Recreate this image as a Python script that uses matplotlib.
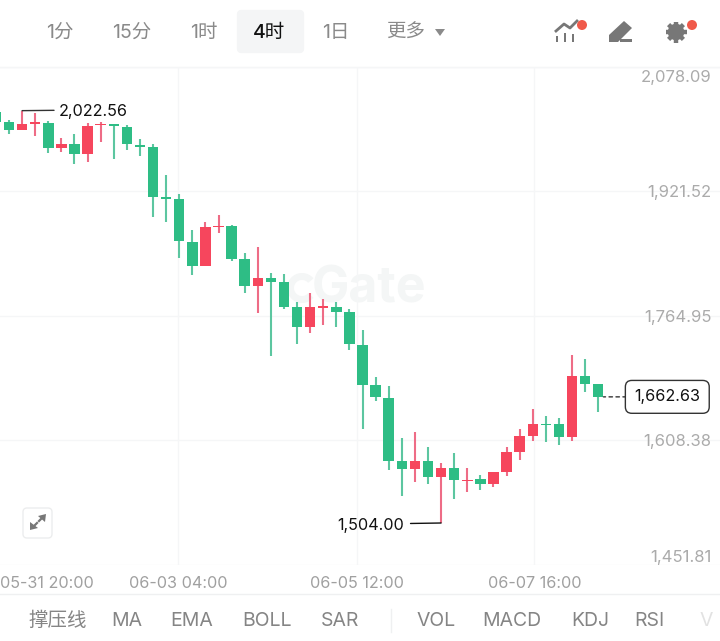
import matplotlib
matplotlib.use("Agg")
import matplotlib.pyplot as plt
import numpy as np
from matplotlib.patches import FancyBboxPatch, Circle, Polygon, Rectangle, Wedge

plt.rcParams['font.family'] = ['Inter', 'Noto Sans CJK SC', 'DejaVu Sans']

# 4h candles, oldest first; index 0 sits partly off the left edge
opens = [2020.9, 2008.7, 1998.2, 2006.4, 2007.4, 1975.2, 1980.3, 1967.7, 2004.5, 2005.4,
         2002.4, 1979.7, 1976.8, 1913.6, 1911.1, 1857.7, 1827.2, 1876.2, 1877.1, 1835.6,
         1802.4, 1811.7, 1807.5, 1775.6, 1750.1, 1774.7, 1775.3, 1769.0, 1728.2, 1677.5,
         1661.6, 1581.6, 1572.3, 1581.6, 1562.2, 1573.2, 1557.2, 1558.9, 1553.4, 1568.1,
         1593.6, 1613.8, 1628.9, 1628.1, 1611.8, 1688.8, 1678.4]
highs = [2020.9, 2010.8, 2022.56, 2020.0, 2009.9, 1988.5, 1992.8, 2007.4, 2007.9, 2005.4,
         2004.1, 1987.3, 1981.0, 1942.0, 1917.4, 1872.1, 1882.5, 1891.3, 1878.7, 1843.2,
         1850.7, 1818.8, 1816.7, 1781.5, 1792.9, 1785.3, 1781.5, 1773.1, 1746.3, 1688.0,
         1676.3, 1611.3, 1618.4, 1599.6, 1579.8, 1591.6, 1573.5, 1564.3, 1568.5, 1599.6,
         1621.8, 1647.0, 1638.5, 1636.0, 1715.3, 1710.2, 1679.2]
lows = [2000.8, 1993.2, 1998.2, 1991.1, 1969.7, 1970.6, 1955.1, 1957.6, 1983.5, 1961.8,
        1972.7, 1965.9, 1889.2, 1882.2, 1837.6, 1816.2, 1827.2, 1868.3, 1833.9, 1793.6,
        1768.1, 1714.4, 1772.7, 1729.5, 1742.9, 1752.6, 1750.9, 1721.2, 1621.8, 1657.4,
        1570.6, 1538.3, 1555.9, 1553.4, 1504.00, 1534.6, 1543.3, 1545.5, 1549.6, 1563.1,
        1583.2, 1607.1, 1605.9, 1602.1, 1607.1, 1669.1, 1643.6]
closes = [2008.3, 1998.2, 2005.8, 2007.7, 1975.2, 1980.3, 1967.7, 2003.3, 2006.2, 2003.6,
          1980.6, 1977.2, 1914.0, 1911.8, 1858.6, 1827.2, 1876.6, 1877.9, 1836.4, 1802.4,
          1811.7, 1807.5, 1776.0, 1750.1, 1775.3, 1776.5, 1769.7, 1728.7, 1677.9, 1662.1,
          1582.0, 1572.3, 1581.6, 1562.2, 1573.2, 1557.7, 1558.4, 1553.0, 1567.8, 1593.3,
          1613.4, 1628.5, 1627.6, 1611.8, 1688.8, 1678.8, 1662.63]

price_ticks = [2078.09, 1921.52, 1764.95, 1608.38, 1451.81]
date_tick_pos = [13.93, 27.56, 41.13]
date_tick_labels = ['06-03 04:00', '06-05 12:00', '06-07 16:00']
first_date_label = '05-31 20:00'
tabs = ['1分', '15分', '1时', '4时', '1日', '更多']
indicators = ['撑压线', 'MA', 'EMA', 'BOLL', 'SAR', 'VOL', 'MACD', 'KDJ', 'RSI', 'V']
high_value = 2022.56
low_value = 1504.00
last_value = 1662.63

UP, DOWN = '#F6465D', '#2EBD85'
UP_WICK, DOWN_WICK = '#EE6C86', '#5CC6A0'
GRID = '#F5F6F7'
W, H = 720, 641

fig = plt.figure(figsize=(W / 100, H / 100), dpi=100, facecolor='white')

# Screen chrome lives on a pixel-space layer beneath the price chart
ui = fig.add_axes([0, 0, 1, 1], zorder=0)
ui.set_xlim(0, W)
ui.set_ylim(H, 0)
ui.axis('off')

ui.add_patch(FancyBboxPatch((241, 14), 59, 35, boxstyle='round,pad=0,rounding_size=0',
                            fc='#F4F5F6', ec='#F4F5F6', lw=6, joinstyle='round'))
for label, x in zip(tabs, [60, 132, 204, 269, 336, 406]):
    active = label == '4时'
    ui.text(x, 33, label, ha='center', va='center', fontsize=14,
            color='#111111' if active else '#8A8A8A',
            fontweight='medium' if active else 'normal')
ui.add_patch(Polygon([[435, 29], [445, 29], [440, 36]], fc='#8A8A8A', ec='none'))

# Toolbar icons
ICON = '#777777'
for x, top in [(557, 33), (565, 30), (573, 31)]:
    ui.add_patch(Rectangle((x - 1.2, top + 3), 2.6, 42 - top - 3, fc=ICON, ec='none'))
ui.plot([556, 564, 570, 577], [31, 24, 28, 21], color=ICON, lw=2)
ui.add_patch(Polygon([[609, 35], [624, 21], [632, 28], [618, 42], [609, 42]], fc=ICON, ec='none'))
ui.add_patch(Rectangle((620, 39), 12, 3, fc=ICON, ec='none'))
gear_x, gear_y = 676, 32
tooth_angles = np.deg2rad(np.arange(0, 360, 45))
for a in tooth_angles:
    ui.plot([gear_x, gear_x + 10.5 * np.cos(a)], [gear_y, gear_y + 10.5 * np.sin(a)],
            color=ICON, lw=3.2, solid_capstyle='butt')
ui.add_patch(Circle((gear_x, gear_y), 8.3, fc=ICON, ec='none'))
ui.add_patch(Circle((gear_x, gear_y), 3.8, fc='white', ec='none'))
for x in (582, 692):
    ui.add_patch(Circle((x, 25), 5, fc='#F0594A', ec='none', zorder=3))

# Rules and bottom bar
ui.plot([0, W], [67, 67], color='#F0F1F2', lw=1)
ui.plot([0, W], [594, 594], color='#EFF0F1', lw=1)
ui.plot([391, 391], [609, 632], color='#EFF0F1', lw=1)
for label, x in zip(indicators, [58, 127, 192, 267, 340, 436, 512, 590, 649, 706]):
    ui.text(x, 621, label, ha='center', va='center', fontsize=14,
            color='#E2E2E2' if label == 'V' else '#858585')

# Expand button
ui.add_patch(FancyBboxPatch((23, 508), 29, 30, boxstyle='round,pad=0,rounding_size=4',
                            fc='white', ec='#ECEDEE', lw=1))
ui.add_patch(Polygon([[38, 516], [46, 514], [45, 522]], fc=ICON, ec='none'))
ui.add_patch(Polygon([[30, 522], [38, 528], [30, 530]], fc=ICON, ec='none'))
ui.plot([39, 43], [521, 517], color=ICON, lw=1.6)
ui.plot([33, 37], [527, 523], color=ICON, lw=1.6)

# Watermark
ui.text(369, 289, 'Gate', ha='center', va='center', fontsize=36, fontweight='bold', color='#F4F6F6')
ui.add_patch(Wedge((302, 288), 15, 40, 320, width=7, fc='#F4F6F6', ec='none'))

# Price chart: one candle every 13.09 px, scale spanning the labelled range
ax = fig.add_axes([0, 1 - 564.5 / H, 1, (564.5 - 66.5) / H], zorder=1)
ax.patch.set_visible(False)
idx = np.arange(len(opens))
o, h, l, c = map(np.asarray, (opens, highs, lows, closes))
rising = c > o
ax.set_xlim(0.3125, 55.3)
ax.set_ylim(price_ticks[-1], price_ticks[0])

ax.vlines(idx, l, h, colors=np.where(rising, UP_WICK, DOWN_WICK), lw=1.5, zorder=3)
ax.bar(idx, np.abs(c - o), bottom=np.minimum(o, c), width=0.8,
       color=np.where(rising, UP, DOWN), linewidth=0, zorder=4)

ax.set_xticks(date_tick_pos, date_tick_labels)
ax.yaxis.tick_right()
ax.set_yticks(price_ticks, [''] + [f'{v:,.2f}' for v in price_ticks[1:]])
ax.grid(True, color=GRID, lw=1)
ax.set_axisbelow(True)
for side in ax.spines.values():
    side.set_visible(False)
ax.tick_params(axis='x', length=0, pad=8, labelsize=11.7, labelcolor='#A0A0A0')
ax.tick_params(axis='y', length=0, pad=-6, labelsize=12, labelcolor='#ABABAB')
for lab in ax.get_yticklabels():
    lab.set_ha('right')
ax.get_yticklabels()[-1].set_va('bottom')
# The top price sits just under the upper rule
ax.annotate(f'{price_ticks[0]:,.2f}', xy=(1, price_ticks[0]), xycoords=ax.get_yaxis_transform(),
            xytext=(-6, -7), textcoords='offset points', ha='right', va='center_baseline',
            fontsize=12, color='#ABABAB', annotation_clip=False)
ax.annotate(first_date_label, xy=(47, 0), xycoords=('figure pixels', 'axes fraction'),
            xytext=(0, -8), textcoords='offset points', ha='center', va='top',
            fontsize=11.7, color='#A0A0A0', annotation_clip=False)

# High, low and last-price markers
high_i = int(np.argmax(h))
low_i = int(np.argmin(l))
ax.annotate(f'{high_value:,.2f}', xy=(high_i, high_value), xytext=(26.5, -0.8),
            textcoords='offset points', va='center', ha='left', fontsize=11.7, color='#111111',
            arrowprops=dict(arrowstyle='-', color='#333333', lw=1, shrinkA=1.5, shrinkB=0,
                            relpos=(0, 0.6)), zorder=6)
ax.annotate(f'{low_value:,.2f}', xy=(low_i, low_value), xytext=(-27, -1.5),
            textcoords='offset points', va='center', ha='right', fontsize=11.7, color='#111111',
            arrowprops=dict(arrowstyle='-', color='#111111', lw=1, shrinkA=3, shrinkB=0,
                            relpos=(1, 0.6)), zorder=6)
ax.annotate('', xy=(idx[-1] + 0.4, last_value), xytext=(16.5, 0), textcoords='offset points',
            arrowprops=dict(arrowstyle='-', color='#333333', lw=1, ls=(0, (2.5, 2.5)),
                            shrinkA=0, shrinkB=0), zorder=5)
ax.text(0.9268, last_value, f'{last_value:,.2f}', transform=ax.get_yaxis_transform(),
        ha='center', va='center', fontsize=11.7, color='#111111', zorder=7,
        bbox=dict(boxstyle='round,pad=0.55,rounding_size=0.4', fc='white', ec='#333333', lw=1))

fig.savefig('out.png', dpi=100, facecolor='white')
